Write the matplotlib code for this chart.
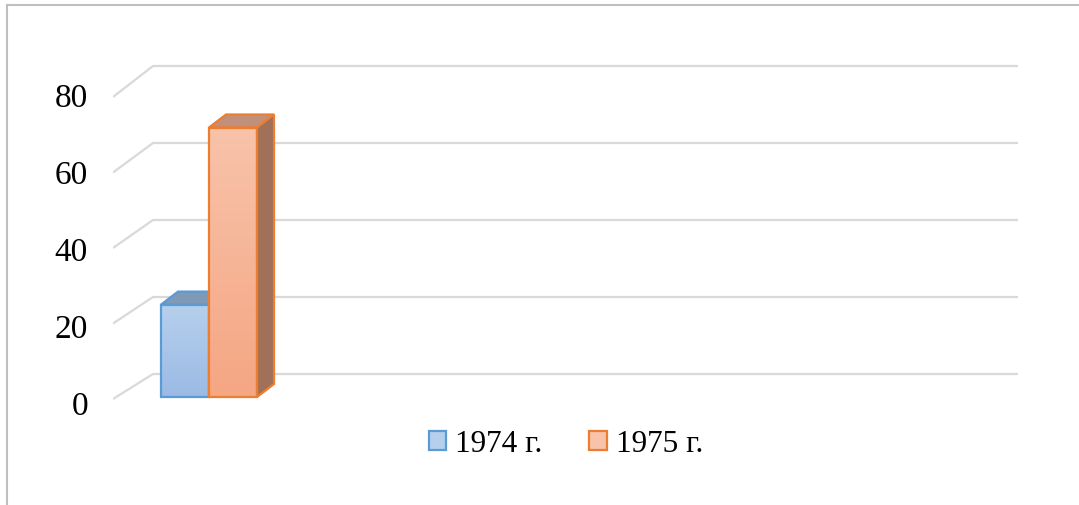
import numpy as np
import matplotlib.pyplot as plt
from matplotlib.patches import Polygon, Patch
from matplotlib.lines import Line2D
from matplotlib.colors import LinearSegmentedColormap

# data
series = ["1974 г.", "1975 г."]
values = [24, 70]
yticks = [0, 20, 40, 60, 80]

# colours: (front top, front bottom, top face, side face, edge)
colours = [
    ("#b6cfec", "#9bbbe5", "#8099b6", "#6f89a8", "#5b9bd5"),
    ("#f8c3aa", "#f5a683", "#c0907a", "#a07058", "#ed7d31"),
]

W, H = 1079, 506
fig = plt.figure(figsize=(W / 100, H / 100), dpi=100)
plt.rcParams["font.family"] = ["Liberation Serif", "DejaVu Serif"]

# layout in pixels: bar front plane, value 0 -> y 398
y0_px = 398
s = 3.85                              # px per unit
bw_px = 48.0                          # bar width in px
left_px, right_px = 113, 1018
ylo, yhi = -3, 90
ax = fig.add_axes([left_px / W,
                   (H - (y0_px - ylo * s)) / H,
                   (right_px - left_px) / W,
                   (yhi - ylo) * s / H])
ax.set_xlim(0, (right_px - left_px) / bw_px)
ax.set_ylim(ylo, yhi)
ax.axis("off")

# perspective offsets
wall_dx = 40 / bw_px
bar_dx, bar_dy = 17 / bw_px, 13 / s
xmax = (right_px - left_px) / bw_px

# gridlines with the floor/wall diagonal
for t in yticks:
    front = (y0_px - (400 - 3.775 * t)) / s
    back = (y0_px - (375 - 3.85 * t)) / s
    ax.plot([0, wall_dx, xmax], [front, back, back],
            color="#d9d9d9", lw=1.6, solid_capstyle="butt", zorder=1)
    ax.text(-25 / bw_px, t - 8.5 / s, str(t), ha="right", va="center",
            fontsize=24, clip_on=False)

# 3D bars
xs = [1.0, 2.0]
for i, (x, v, (ct, cb, ctop, cside, ce)) in enumerate(zip(xs, values, colours)):
    z = 3 + i
    bars = ax.bar(x, v, width=1.0, align="edge", color=cb, lw=0, zorder=z)
    cmap = LinearSegmentedColormap.from_list("g", [cb, ct])
    grad = np.linspace(0, 1, 100).reshape(-1, 1)
    im = ax.imshow(grad, extent=(x, x + 1, 0, v), origin="lower",
                   cmap=cmap, aspect="auto", zorder=z + 0.1)
    im.set_clip_path(bars[0])
    ax.bar(x, v, width=1.0, align="edge", fill=False, edgecolor=ce,
           lw=1.6, zorder=z + 0.3)
    top = Polygon([(x, v), (x + bar_dx, v + bar_dy),
                   (x + 1 + bar_dx, v + bar_dy), (x + 1, v)],
                  closed=True, facecolor=ctop, edgecolor=ce, lw=1.6,
                  joinstyle="miter", zorder=z + 0.2)
    side = Polygon([(x + 1, 0), (x + 1, v), (x + 1 + bar_dx, v + bar_dy),
                    (x + 1 + bar_dx, bar_dy)],
                   closed=True, facecolor=cside, edgecolor=ce, lw=1.6,
                   joinstyle="miter", zorder=z + 0.2)
    ax.add_patch(top)
    ax.add_patch(side)

# legend
handles = [Patch(facecolor=c[0], edgecolor=c[4], lw=1.6) for c in colours]
fig.legend(handles, series, loc="center", bbox_to_anchor=(566 / W, 1 - 445 / H),
           ncol=2, frameon=False, fontsize=22.5, handlelength=0.55,
           handleheight=0.55, handletextpad=0.3, columnspacing=1.5)

# outer frame (top and left only visible)
fig.add_artist(Line2D([7 / W, 7 / W], [0, 1 - 6 / H], color="#bfbfbf", lw=1.5))
fig.add_artist(Line2D([7 / W, 1], [1 - 6 / H, 1 - 6 / H], color="#bfbfbf", lw=1.5))

fig.savefig("out.png", dpi=100)
